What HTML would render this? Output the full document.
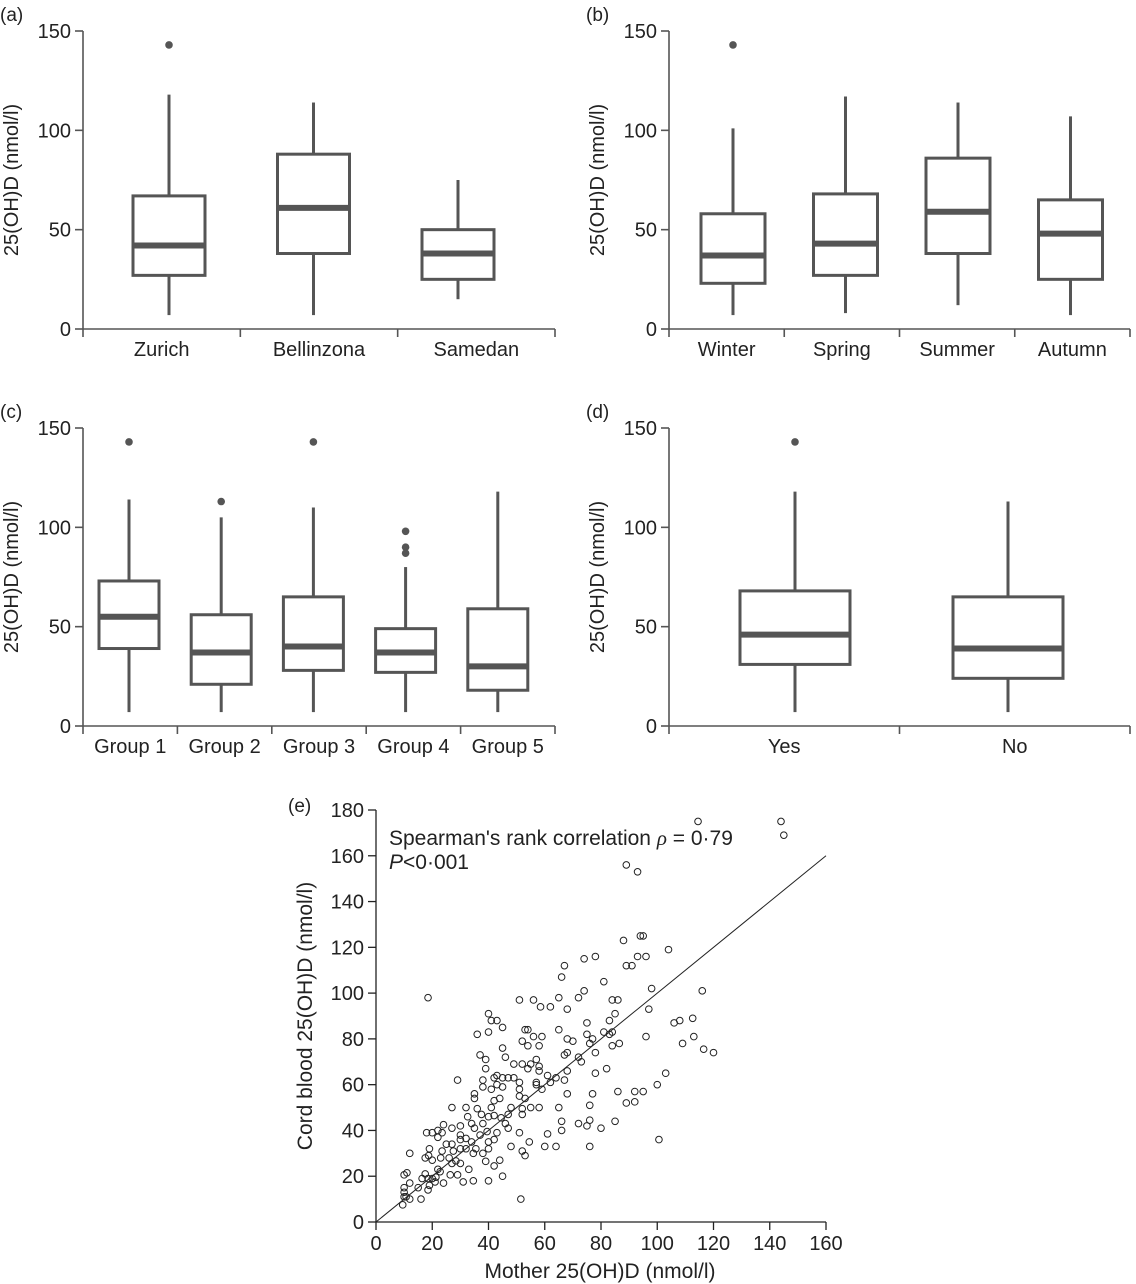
<!DOCTYPE html>
<html><head><meta charset="utf-8"><style>
html,body{margin:0;padding:0;background:#fff;}
svg{display:block;font-family:"Liberation Sans",Arial,sans-serif;}
</style></head><body>
<svg id="fig" width="1136" height="1284" viewBox="0 0 1136 1284"></svg>
<script>
// ---- box plot data: [whiskerLow, q1, median, q3, whiskerHigh]
const catsA = ["Zurich","Bellinzona","Samedan"];
const boxA = [[7,27,42,67,118],[7,38,61,88,114],[15,25,38,50,75]];
const outA = [[143],[],[]];
const catsB = ["Winter","Spring","Summer","Autumn"];
const boxB = [[7,23,37,58,101],[8,27,43,68,117],[12,38,59,86,114],[7,25,48,65,107]];
const outB = [[143],[],[],[]];
const catsC = ["Group 1","Group 2","Group 3","Group 4","Group 5"];
const boxC = [[7,39,55,73,114],[7,21,37,56,105],[7,28,40,65,110],[7,27,37,49,80],[7,18,30,59,118]];
const outC = [[143],[113],[143],[98,90,87],[]];
const catsD = ["Yes","No"];
const boxD = [[7,31,46,68,118],[7,24,39,65,113]];
const outD = [[143],[]];
const yTicks = [0,50,100,150];
// ---- scatter data
const motherVals = [144,145,114.5,89,93,88,94,95,104,93,96,89,91,74,78,67,66,81,98,116,74,18.5,51,56,58.5,62,65,72,68,84,86,85,97,83,40,41,43,45,40,36,65,75,53,54,56,59,52,54,58,68,70,75,77,81,83,84,84,86.5,96,106,108,112.6,113,109,116.5,120,76,78,68,67,72,73,45,46,37,39,39,49,52,54,55,57,58,58,61,64,67,68,62,57,57,59,53,51,51,51,49,47,45,43,42,43,45,41,38,38,29,35,35,44,42,36,41,48,52,55,58,65,68,77,78,82,86,92,95,100,103,89,92,76,76,75,72,66,66,61,60,64,76,80,85,100.6,54.5,52,51,48,52,53,51.5,47,46,47,44.5,42,40,38,37.5,32.6,32,27,34,35,30,27,24,22,23.5,20,18,22,25,27,30,30,32,34,37,39.5,43,42,40,40,38,39,44,42,40,45,34.6,31,29,26.4,24,33,35.5,34.6,32,30,27.5,26,28.4,30,27,23.5,23,22,19,18.7,20,17.5,12,11,10,12,15,17.5,18.5,20,21,21.3,22.8,16.4,19,18.5,10,10,10,10.7,12,16,9.5];
const cordVals = [175,169,175,156,153,123,125,125,119,116,116,112,112,115,116,112,107,105,102,101,101,98,97,97,94,94,98,98,93,97,97,91,93,88,91,88,88,85,83,82,84,87,84,84,81,81,79,77,77,80,79,82,80,83,82,83,77,78,81,87,88,89,81,78,75.5,74,78,74,74,73,72,70,76,72,73,71,67,69,69,67,69,71,68,66,64,63,62,66,61,61,60,58,54,61,58,55,63,63,63,64,63,60,59,58,62,59,62,56,54,54,53,49.5,50,50,49.5,50,50,50,56,56,65,67,57,57,57,60,65,52,52.5,51,44.5,42,43,44,40,38.5,33,33,33,41,44,36,35,47,39,33,31,29,10,41,43,47,45.5,46.5,46,43,47,46,50,50,43,41,42,41,42.5,40,39,39,39,37,34,34,38,36,36.5,35,38,39.5,39,36,35,32,30,26.5,27,24.5,18,20,18,17.5,20.6,20.6,17,23,32,30,32,32,31,28,26.7,25.6,25.6,31,28,23,32,29,27,28,30,21.5,20.6,17,15,21,19,19,17.5,19.6,22,19,16,14,15,13,11,11,10,10,7.5];
const xTicksE = [0,20,40,60,80,100,120,140,160];
const yTicksE = [0,20,40,60,80,100,120,140,160,180];

const NS="http://www.w3.org/2000/svg";
const svg=document.getElementById('fig');
function mk(tag,attrs,parent){const e=document.createElementNS(NS,tag);for(const k in attrs)e.setAttribute(k,attrs[k]);(parent||svg).appendChild(e);return e;}
function txt(s,attrs,parent){const e=mk('text',attrs,parent);e.textContent=s;return e;}
const GR="#555";
const FS=20;

function boxPanel(name,label,x0,x1,yBase,cats,boxes,outs,bw,boxStart,boxStep){
  const g=mk('g',{});
  
  
  const ys=v=>yBase-(v/150)*298;
  const cw=(x1-x0)/cats.length;
  const xs=i=>x0+cw*(i+0.5);
  const bx=i=>boxStart!=null?boxStart+boxStep*i:xs(i);
  const pl=txt(label,{x:x0-83,y:yBase-308,'font-size':19,fill:'#222'},g);
  
  
  const ya=mk('line',{x1:x0,y1:ys(150),x2:x0,y2:yBase,stroke:GR,'stroke-width':1.6},g);
  
  
  const xa=mk('line',{x1:x0,y1:yBase,x2:x1,y2:yBase,stroke:GR,'stroke-width':1.6},g);
  
  
  yTicks.forEach(t=>{
    mk('line',{x1:x0-8,y1:ys(t),x2:x0,y2:ys(t),stroke:GR,'stroke-width':1.6},g);
    const tl=txt(String(t),{x:x0-12,y:ys(t)+7,'font-size':FS,'text-anchor':'end',fill:'#222'},g);
    
    
  });
  for(let i=0;i<=cats.length;i++){mk('line',{x1:x0+cw*i,y1:yBase,x2:x0+cw*i,y2:yBase+8,stroke:GR,'stroke-width':1.6},g);}
  const at=txt('25(OH)D (nmol/l)',{x:0,y:0,'font-size':FS,'text-anchor':'middle',fill:'#222',transform:`translate(${x0-65},${yBase-149}) rotate(-90)`},g);
  
  
  cats.forEach((c,i)=>{
    const b=boxes[i],cx=bx(i);
    const bg=mk('g',{},g);
    
    
    mk('line',{x1:cx,y1:ys(b[0]),x2:cx,y2:ys(b[1]),stroke:GR,'stroke-width':3},bg);
    mk('line',{x1:cx,y1:ys(b[3]),x2:cx,y2:ys(b[4]),stroke:GR,'stroke-width':3},bg);
    mk('rect',{x:cx-bw/2,y:ys(b[3]),width:bw,height:ys(b[1])-ys(b[3]),fill:'none',stroke:GR,'stroke-width':3},bg);
    mk('line',{x1:cx-bw/2,y1:ys(b[2]),x2:cx+bw/2,y2:ys(b[2]),stroke:GR,'stroke-width':6},bg);
    outs[i].forEach(o=>{const oc=mk('circle',{cx:cx,cy:ys(o),r:3.8,fill:GR},bg);
      
      });
    const cl=txt(c,{x:xs(i),y:yBase+27,'font-size':FS,'text-anchor':'middle',fill:'#222'},g);
    
    
  });
}
boxPanel('panel-a-location','(a)',83,555,329,catsA,boxA,outA,72,169,144.5);
boxPanel('panel-b-season','(b)',669,1130,329,catsB,boxB,outB,64,733,112.5);
boxPanel('panel-c-group','(c)',83,555,726,catsC,boxC,outC,60,129,92.2);
boxPanel('panel-d-yesno','(d)',669,1130,726,catsD,boxD,outD,110,795,213);

// scatter
const ge=mk('g',{});


const X0=376,X1=826,Y0=1222,Y1=810;
const sx=v=>X0+(v/160)*(X1-X0);
const sy=v=>Y0-(v/180)*(Y0-Y1);
const pe=txt('(e)',{x:288,y:812,'font-size':19,fill:'#222'},ge);


const xe=mk('line',{x1:X0,y1:Y0,x2:X1,y2:Y0,stroke:'#222','stroke-width':1.3},ge);


const ye=mk('line',{x1:X0,y1:Y0,x2:X0,y2:Y1,stroke:'#222','stroke-width':1.3},ge);


xTicksE.forEach(t=>{mk('line',{x1:sx(t),y1:Y0,x2:sx(t),y2:Y0+8,stroke:'#222','stroke-width':1.3},ge);
  const l=txt(String(t),{x:sx(t),y:Y0+28,'font-size':FS,'text-anchor':'middle',fill:'#222'},ge);
  
  });
yTicksE.forEach(t=>{mk('line',{x1:X0-8,y1:sy(t),x2:X0,y2:sy(t),stroke:'#222','stroke-width':1.3},ge);
  const l=txt(String(t),{x:X0-12,y:sy(t)+7,'font-size':FS,'text-anchor':'end',fill:'#222'},ge);
  
  });
const xt=txt('Mother 25(OH)D (nmol/l)',{x:600,y:1278,'font-size':21,'text-anchor':'middle',fill:'#222'},ge);


const yt=txt('Cord blood 25(OH)D (nmol/l)',{x:0,y:0,'font-size':21,'text-anchor':'middle',fill:'#222',transform:'translate(312,1016) rotate(-90)'},ge);


const rl=mk('line',{x1:sx(0),y1:sy(0),x2:sx(160),y2:sy(160),stroke:'#222','stroke-width':1},ge);


motherVals.forEach((m,i)=>{const c=mk('circle',{cx:sx(m),cy:sy(cordVals[i]),r:3.3,fill:'none',stroke:'#222','stroke-width':1},ge);
  
  });
const an=mk('text',{x:389,y:845,'font-size':21,fill:'#222'},ge);


an.innerHTML="Spearman's rank correlation <tspan font-style='italic' font-family='Liberation Serif'>ρ</tspan> = 0·79";
const pv=mk('text',{x:389,y:869,'font-size':21,fill:'#222'},ge);


pv.innerHTML="<tspan font-style='italic'>P</tspan>&lt;0·001";
</script>
</body></html>
